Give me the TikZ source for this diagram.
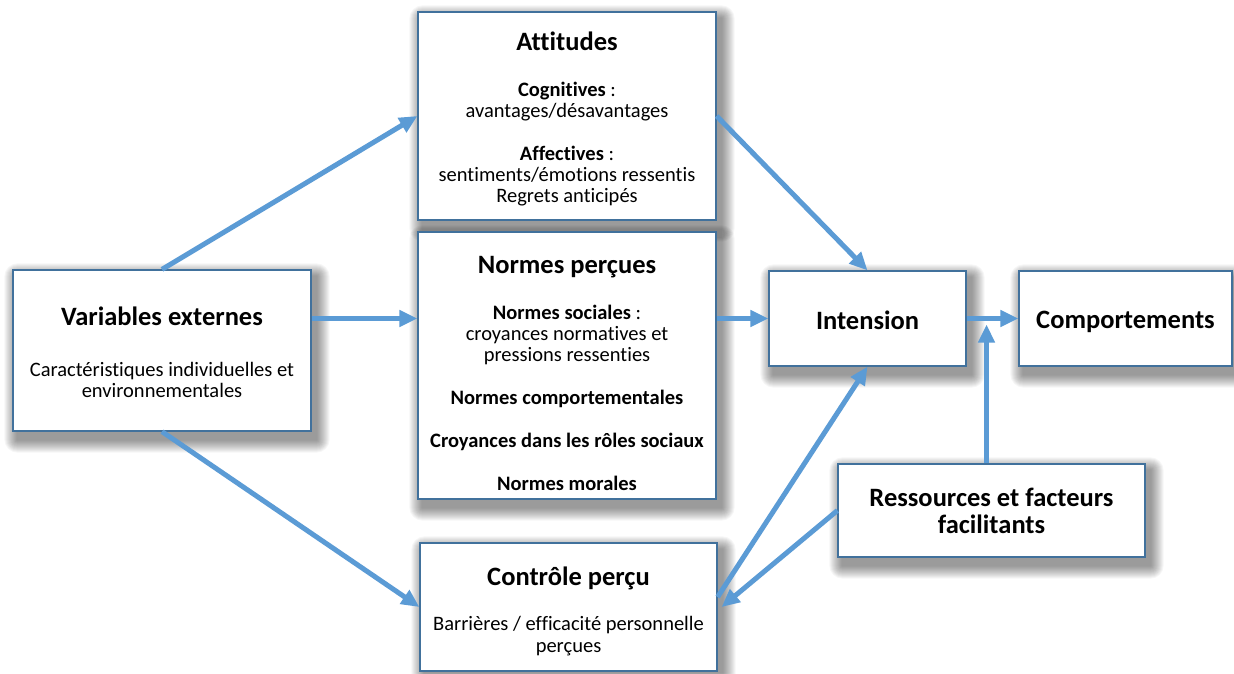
\documentclass[tikz,border=0pt]{standalone}
\usepackage{fontspec}
\setmainfont{Carlito}[Ligatures=NoCommon]
\usetikzlibrary{arrows.meta,backgrounds}
\definecolor{arrowblue}{HTML}{5B9BD5}
\definecolor{boxedge}{HTML}{41719C}
\newcommand{\boxhead}[2][0pt]{{\fontsize{26.5}{27}\selectfont\bfseries\rule{0pt}{#1}#2}}

\begin{document}
\begin{tikzpicture}[x=1pt,y=-1pt,
  modelbox/.style={draw=boxedge, line width=1.2pt, fill=white, align=center,
    inner sep=0pt, font=\fontsize{20.5}{21.3}\selectfont},
  headbox/.style={modelbox, font=\fontsize{26.5}{27}\selectfont\bfseries},
  flow/.style={draw=arrowblue, line width=5pt, -{Triangle[length=18pt,width=16pt]}}]
    \useasboundingbox (0,0) rectangle (1234,673);

    % Boxes
    \node[modelbox, minimum width=298pt, minimum height=161pt] (var) at (162,350.5)
      {\boxhead[22pt]{Variables externes}\\[30pt]
       Caractéristiques individuelles et\\ environnementales};
    \node[modelbox, minimum width=298pt, minimum height=208pt] (att) at (567,116)
      {\boxhead[25pt]{Attitudes}\\[24pt]
       \textbf{Cognitives} :\\ avantages/désavantages\\[21.5pt]
       \textbf{Affectives} :\\ sentiments/émotions ressentis\\ Regrets anticipés};
    \node[modelbox, minimum width=298pt, minimum height=267pt] (nor) at (567,365.5)
      {\boxhead[33pt]{Normes perçues}\\[24pt]
       \textbf{Normes sociales} :\\ croyances normatives et\\ pressions ressenties\\[21.5pt]
       \textbf{Normes comportementales}\\[21.5pt]
       \textbf{Croyances dans les rôles sociaux}\\[21.5pt]
       \textbf{Normes morales}};
    \node[modelbox, minimum width=297pt, minimum height=128pt] (ctl) at (568.5,607)
      {\boxhead[27pt]{Contrôle perçu}\\[24pt]
       Barrières / efficacité personnelle\\ perçues};
    \node[headbox, minimum width=197pt, minimum height=95pt] (int) at (867.5,318.5)
      {\rule{0pt}{22pt}Intension};
    \node[headbox, minimum width=213pt, minimum height=95pt] (com) at (1125.5,318.5)
      {\rule{0pt}{24pt}Comportements};
    \node[headbox, minimum width=307pt, minimum height=93pt] (res) at (991.5,510.5)
      {Ressources et facteurs\\ facilitants};

    % Soft shadows behind the boxes
    \begin{scope}[on background layer]
      \fill[white] (0,0) rectangle (1234,673);
      \foreach \b in {var,att,nor,ctl,int,com,res}
        \foreach \k in {1,...,13}
          \fill[black, opacity=0.037, rounded corners=\k pt]
            ([shift={({(5-\k)*1pt},{(\k-7)*1pt})}]\b.north west) rectangle
            ([shift={({(5+\k)*1pt},{(-8-\k)*1pt})}]\b.south east);
    \end{scope}

    % Arrows
    \draw[flow] (var.north) -- (att.west);
    \draw[flow] (var.east |- int.west) -- (nor.west |- int.west);
    \draw[flow] (var.south) -- (ctl.west);
    \draw[flow] (att.east) -- (int.north);
    \draw[flow] (nor.east |- int.west) -- (int.west);
    \draw[flow] ([yshift=10pt]ctl.east) -- (int.south);
    \draw[flow] (res.west) -- ([xshift=4pt]ctl.east);
    \draw[flow] (int.east) -- (com.west);
    \coordinate (join) at ([xshift=-5pt]res.north |- int.east);
    \draw[flow] ([xshift=-5pt]res.north) -- ([yshift=-6pt]join);
\end{tikzpicture}
\end{document}
